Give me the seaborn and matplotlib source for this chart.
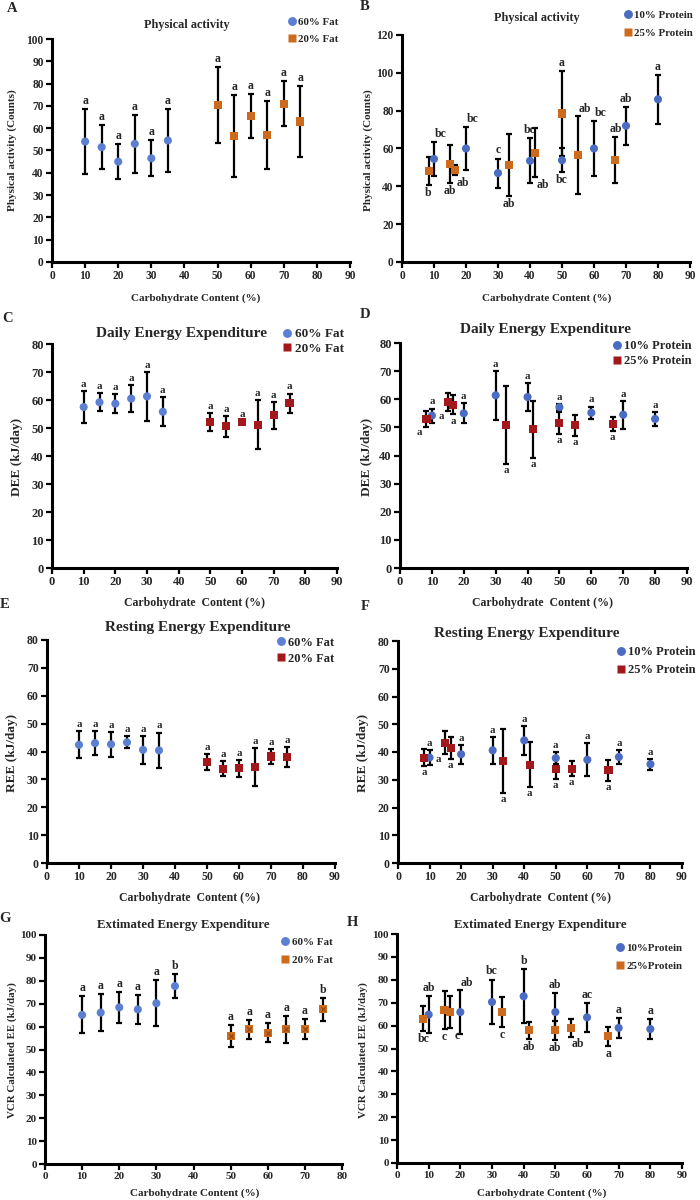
import matplotlib
matplotlib.use("Agg")
import matplotlib.pyplot as plt
import pandas as pd
import seaborn as sns

# carbohydrate content (%) of each diet group
fat60_x = [10, 15, 20, 25, 30, 35]
fat20_x = [50, 55, 60, 65, 70, 75]
prot10_x = [10, 20, 30, 40, 50, 60, 70, 80]
prot25_x = [8.3, 15, 16.7, 33.3, 41.7, 50, 55, 66.7]

# A: physical activity, fat diets
pa_fat60 = [54, 51.5, 45, 53, 46.5, 54.5]
pa_fat60_sd = [14.7, 10, 7.7, 13, 8, 14.2]
pa_fat60_sig = ["a", "a", "a", "a", "a", "a"]
pa_fat20 = [70.5, 56.5, 65.5, 57, 71, 63]
pa_fat20_sd = [17, 18.2, 10, 15.2, 10.2, 16]
pa_fat20_sig = ["a", "a", "a", "a", "a", "a"]

# B: physical activity, protein diets
pa_p10 = [54.5, 60, 47, 53.5, 53.8, 60, 72, 86]
pa_p10_sd = [9, 11.5, 7.7, 12, 6.2, 14.7, 10, 12.8]
pa_p10_sig = ["bc", "bc", "c", "bc", "bc", "bc", "ab", "a"]
pa_p10_side = ["ur", "ur", "u", "u", "d", "ur", "u", "u"]
pa_p25 = [48, 51.7, 48.5, 51.5, 57.7, 78.5, 56.5, 54]
pa_p25_sd = [7.3, 10.1, 2.6, 16.4, 13, 22.3, 20.6, 12]
pa_p25_sig = ["b", "ab", "ab", "ab", "ab", "a", "ab", "ab"]
pa_p25_side = ["d", "d", "dr", "d", "dr", "u", "ur", "u"]

# C: daily energy expenditure, fat diets
dee_fat60 = [57.5, 59.2, 58.7, 60.5, 61.3, 55.8]
dee_fat60_sd = [5.6, 3.3, 3.5, 4.7, 8.7, 5.2]
dee_fat20 = [52, 50.6, 52, 51.2, 54.5, 58.8]
dee_fat20_sd = [3.2, 3.7, 0.5, 8.7, 4.9, 3.5]
dee_fat_sig = ["a", "a", "a", "a", "a", "a"]

# D: daily energy expenditure, protein diets
dee_p10 = [54.2, 55, 61.4, 60.8, 57.2, 55.2, 54.5, 53]
dee_p10_sd = [2.5, 3.5, 8.6, 5.1, 1.0, 2.2, 5.0, 2.6]
dee_p10_sig = ["a"] * 8
dee_p10_side = ["u"] * 8
dee_p25 = [52.9, 59.1, 58, 50.9, 49.3, 51.5, 50.7, 51.2]
dee_p25_sd = [2.8, 3.3, 3.4, 13.8, 10.1, 3.9, 3.7, 2.6]
dee_p25_sig = ["a"] * 8
dee_p25_side = ["dl", "dl", "d", "d", "d", "d", "d", "d"]

# E: resting energy expenditure, fat diets
ree_fat60 = [42.4, 43, 42.6, 43.3, 40.6, 40.4]
ree_fat60_sd = [4.9, 4.2, 4.5, 2.1, 5.0, 6.4]
ree_fat20 = [36.2, 33.8, 34, 34.4, 38.2, 38]
ree_fat20_sd = [3.0, 2.7, 3.0, 6.8, 2.6, 3.6]
ree_fat_sig = ["a", "a", "a", "a", "a", "a"]

# F: resting energy expenditure, protein diets
ree_p10 = [38, 39.2, 40.6, 44.2, 37.8, 37.2, 38.2, 35.6]
ree_p10_sd = [2.8, 3.4, 4.9, 5.3, 2.1, 5.9, 2.6, 2.0]
ree_p10_sig = ["a"] * 8
ree_p10_side = ["u"] * 8
ree_p25 = [38, 43.4, 41.4, 36.8, 35.4, 34, 34, 33.4]
ree_p25_sd = [3.1, 4.0, 4.0, 11.6, 8.1, 3.7, 2.7, 3.8]
ree_p25_sig = ["a"] * 8
ree_p25_side = ["d", "dl", "d", "d", "d", "d", "d", "d"]

# G: estimated energy expenditure (VCR), fat diets
vcr_fat60 = [65.1, 66.1, 68.4, 67.5, 70.2, 77.7]
vcr_fat60_sd = [8.1, 8.0, 6.8, 6.4, 10, 5.2]
vcr_fat60_sig = ["a", "a", "a", "a", "a", "b"]
vcr_fat20 = [55.9, 58.8, 57.4, 58.8, 58.8, 67.5]
vcr_fat20_sd = [4.9, 4.2, 4.2, 6.0, 4.4, 4.9]
vcr_fat20_sig = ["a", "a", "a", "a", "a", "b"]

# H: estimated energy expenditure (VCR), protein diets
vcr_p10 = [64.8, 65.9, 70.3, 72.8, 65.9, 63.6, 59, 58.5]
vcr_p10_sd = [8.2, 9.5, 9.8, 11.8, 8.4, 6.2, 4.4, 4.2]
vcr_p10_sig = ["ab", "ab", "bc", "b", "ab", "ac", "a", "a"]
vcr_p10_side = ["u", "ur", "u", "u", "u", "u", "u", "u"]
vcr_p25 = [63, 66.7, 65.9, 65.9, 57.9, 57.9, 59, 55.3]
vcr_p25_sd = [5.5, 8.3, 7.0, 6.4, 3.6, 4.2, 4.0, 4.0]
vcr_p25_sig = ["bc", "c", "c", "c", "ab", "ab", "ab", "a"]
vcr_p25_side = ["d", "d", "dr", "d", "d", "d", "dr", "d"]

BLUE_F = "#5b80d2"
BLUE_P = "#4a6cc2"
ORANGE = "#cc6a1e"
RED = "#a3191b"

sns.set_theme(style="ticks")
plt.rcParams["font.family"] = ["Liberation Serif", "DejaVu Serif"]
plt.rcParams["font.weight"] = "bold"

fig = plt.figure(figsize=(7, 12), dpi=100)

OFFS = {"u": (0, 1.5, "bottom"), "ur": (5, 1, "bottom"), "ul": (-5, 1, "bottom"),
        "d": (0, -1.5, "top"), "dr": (5, -1, "top"), "dl": (-5, -1, "top")}


def fx(px):
    return px / 700


def fy(py):
    return 1 - py / 1200


def panel(rect, series, xmax, ymax, ystep, fs, sfs, title, tpos, tfs,
          ylab, ylpos, ylfs, xlab, xlpos, xlfs, leg, letter, lpos):
    l, t, r, b = rect
    ax = fig.add_axes([fx(l), fy(b), fx(r - l), (b - t) / 1200])
    frames = []
    for s in series:
        ax.errorbar(s["x"], s["y"], yerr=s["sd"], fmt="none", ecolor="black",
                    elinewidth=1.6, capsize=2.5, capthick=1.6, zorder=2)
        frames.append(pd.DataFrame({"x": s["x"], "y": s["y"], "g": s["name"]}))
    df = pd.concat(frames)
    names = [s["name"] for s in series]
    sns.scatterplot(data=df, x="x", y="y", hue="g", style="g", hue_order=names,
                    style_order=names,
                    palette={s["name"]: s["color"] for s in series},
                    markers={s["name"]: s["marker"] for s in series},
                    s=34, edgecolor="none", ax=ax, zorder=3)
    for s in series:
        if s.get("hatch"):
            ax.scatter(s["x"], s["y"], marker="x", s=10, color="#8a3f0c",
                       linewidths=0.7, zorder=4)
        sides = s.get("side", ["u"] * len(s["x"]))
        for x, y, sd, lab, sd_code in zip(s["x"], s["y"], s["sd"], s["sig"], sides):
            dx, dy, va = OFFS[sd_code]
            yy = y + sd if va == "bottom" else y - sd
            ax.annotate(lab, (x, yy), xytext=(dx, dy), textcoords="offset points",
                        ha="center", va=va, fontsize=sfs, fontweight="bold")
    ax.set_xlim(0, xmax)
    ax.set_ylim(0, ymax)
    ax.set_xticks(range(0, xmax + 1, 10))
    ax.set_yticks(range(0, ymax + 1, ystep))
    sns.despine(ax=ax)
    for sp in ["left", "bottom"]:
        ax.spines[sp].set_linewidth(2.2)
        ax.spines[sp].set_color("black")
    ax.tick_params(direction="out", length=4, width=1.6, color="black",
                   labelsize=fs, pad=2)
    for lbl in ax.get_xticklabels() + ax.get_yticklabels():
        lbl.set_fontweight("bold")
    ax.set_xlabel("")
    ax.set_ylabel("")
    fig.text(fx(tpos[0]), fy(tpos[1]), title, ha="center", va="center",
             fontsize=tfs, fontweight="bold")
    fig.text(fx(ylpos[0]), fy(ylpos[1]), ylab, ha="center", va="center",
             rotation=90, fontsize=ylfs, fontweight="bold")
    fig.text(fx(xlpos[0]), fy(xlpos[1]), xlab, ha="center", va="center",
             fontsize=xlfs, fontweight="bold")
    fig.text(fx(lpos[0]), fy(lpos[1]), letter, ha="center", va="center",
             fontsize=10.5, fontweight="bold")
    mx, y1, y2, lfs = leg
    fpx = lfs * 100 / 72
    hl = 0.8
    sns.move_legend(ax, "upper left",
                    bbox_to_anchor=(fx(mx - hl * fpx / 2), fy(y1 - fpx * 0.6)),
                    bbox_transform=fig.transFigure, title=None, frameon=False,
                    prop={"size": lfs, "weight": "bold"}, handlelength=hl,
                    handletextpad=0.2, borderpad=0, borderaxespad=0,
                    labelspacing=(y2 - y1 - fpx * 1.2) / fpx, markerscale=1.1)
    return ax


def ser(name, x, y, sd, sig, color, marker, side=None, hatch=False):
    d = {"name": name, "x": x, "y": y, "sd": sd, "sig": sig, "color": color,
         "marker": marker, "hatch": hatch}
    if side is not None:
        d["side"] = side
    return d


carb = "Carbohydrate Content (%)"
carb2 = "Carbohydrate  Content (%)"

panel((52, 39, 350, 262),
      [ser("60% Fat", fat60_x, pa_fat60, pa_fat60_sd, pa_fat60_sig, BLUE_F, "o"),
       ser("20% Fat", fat20_x, pa_fat20, pa_fat20_sd, pa_fat20_sig, ORANGE, "s")],
      90, 100, 10, 8.3, 8.5, "Physical activity", (187, 25), 8.8,
      "Physical activity (Counts)", (12, 150), 8, carb, (196, 298), 8,
      (292, 24, 44, 7.8), "A", (12, 9))

panel((402, 35, 690, 262),
      [ser("10% Protein", prot10_x, pa_p10, pa_p10_sd, pa_p10_sig, BLUE_P, "o", pa_p10_side),
       ser("25% Protein", prot25_x, pa_p25, pa_p25_sd, pa_p25_sig, ORANGE, "s", pa_p25_side)],
      90, 120, 20, 8.3, 8.5, "Physical activity", (537, 18), 8.8,
      "Physical activity (Counts)", (368, 150), 8, carb, (547, 298), 8,
      (628, 17, 38, 7.8), "B", (365, 7))

panel((52, 344, 337, 568),
      [ser("60% Fat", fat60_x, dee_fat60, dee_fat60_sd, dee_fat_sig, BLUE_F, "o"),
       ser("20% Fat", fat20_x, dee_fat20, dee_fat20_sd, dee_fat_sig, RED, "s")],
      90, 80, 10, 9, 8, "Daily Energy Expenditure", (182, 333), 11,
      "DEE (kJ/day)", (17, 457), 9.5, carb2, (195, 603), 8.5,
      (287, 336, 354, 9.5), "C", (8, 318))

panel((400, 343, 687, 568),
      [ser("10% Protein", prot10_x, dee_p10, dee_p10_sd, dee_p10_sig, BLUE_P, "o", dee_p10_side),
       ser("25% Protein", prot25_x, dee_p25, dee_p25_sd, dee_p25_sig, RED, "s", dee_p25_side)],
      90, 80, 10, 9, 7.8, "Daily Energy Expenditure", (545, 330), 11,
      "DEE (kJ/day)", (367, 457), 9.5, carb2, (543, 603), 8.5,
      (617, 348, 366, 9), "D", (365, 315))

panel((47, 640, 335, 863),
      [ser("60% Fat", fat60_x, ree_fat60, ree_fat60_sd, ree_fat_sig, BLUE_F, "o"),
       ser("20% Fat", fat20_x, ree_fat20, ree_fat20_sd, ree_fat_sig, RED, "s")],
      90, 80, 10, 8.5, 7.8, "Resting Energy Expenditure", (198, 628), 11,
      "REE (kJ/day)", (12, 753), 9.5, carb2, (190, 898), 8.5,
      (281, 644, 663, 9), "E", (5, 605))

panel((398, 641, 682, 863),
      [ser("10% Protein", prot10_x, ree_p10, ree_p10_sd, ree_p10_sig, BLUE_P, "o", ree_p10_side),
       ser("25% Protein", prot25_x, ree_p25, ree_p25_sd, ree_p25_sig, RED, "s", ree_p25_side)],
      90, 80, 10, 8.5, 7.8, "Resting Energy Expenditure", (527, 633), 11,
      "REE (kJ/day)", (363, 753), 9.5, carb2, (540, 898), 8.5,
      (621, 654, 675, 9), "F", (365, 607))

panel((45, 935, 342, 1164),
      [ser("60% Fat", fat60_x, vcr_fat60, vcr_fat60_sd, vcr_fat60_sig, BLUE_F, "o"),
       ser("20% Fat", fat20_x, vcr_fat20, vcr_fat20_sd, vcr_fat20_sig, ORANGE, "s", hatch=True)],
      80, 100, 10, 8, 8.5, "Extimated Energy Expenditure", (183, 925), 9.3,
      "VCR Calculated EE (kJ/day)", (12, 1050), 7.8, carb, (195, 1193), 8,
      (285, 944, 965, 8), "G", (5, 918))

panel((397, 934, 682, 1163),
      [ser("10%Protein", prot10_x, vcr_p10, vcr_p10_sd, vcr_p10_sig, BLUE_P, "o", vcr_p10_side),
       ser("25%Protein", prot25_x, vcr_p25, vcr_p25_sd, vcr_p25_sig, ORANGE, "s", vcr_p25_side)],
      90, 100, 10, 8, 8.5, "Extimated Energy Expenditure", (540, 925), 9.3,
      "VCR Calculated EE (kJ/day)", (363, 1050), 7.8, carb, (542, 1193), 8,
      (620, 950, 971, 7.8), "H", (352, 922))

fig.savefig("out.png", dpi=100, facecolor="white")
